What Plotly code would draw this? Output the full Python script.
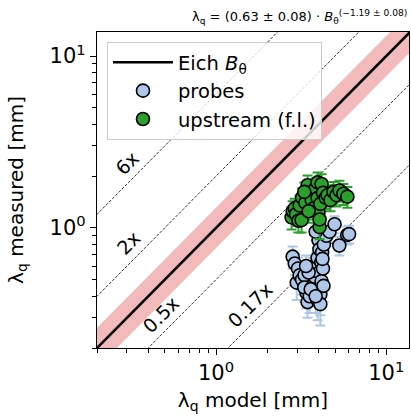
import numpy as np
import plotly.graph_objects as go

# ---------------- data ----------------
probes_x = [2.82, 2.90, 3.03, 2.98, 3.10, 3.20, 3.31, 3.40, 3.45, 3.30, 3.55, 3.69,
            3.75, 3.80, 3.90, 3.95, 3.95, 3.95, 4.00, 4.05, 4.05, 4.10, 4.17, 4.15,
            4.20, 4.25, 4.30, 4.45, 4.64, 4.97, 5.30, 5.90, 6.05, 3.85, 4.10, 3.60,
            3.50, 4.22, 4.28, 3.38, 3.85]
probes_y = [0.68, 0.62, 0.58, 0.48, 0.53, 0.50, 0.53, 0.42, 0.37, 0.45, 0.40, 0.58,
            0.47, 0.52, 0.62, 0.67, 0.44, 0.38, 0.85, 0.55, 0.75, 0.41, 0.49, 0.63,
            0.72, 0.58, 0.80, 0.90, 0.95, 1.05, 0.79, 0.91, 0.92, 0.95, 0.36, 0.44,
            0.55, 0.66, 0.46, 0.60, 0.40]
probes_err = [0.10, 0.09, 0.09, 0.10, 0.08, 0.09, 0.08, 0.08, 0.07, 0.08, 0.08, 0.09,
              0.08, 0.09, 0.10, 0.10, 0.08, 0.09, 0.11, 0.09, 0.10, 0.10, 0.09, 0.09,
              0.10, 0.09, 0.10, 0.11, 0.12, 0.12, 0.10, 0.11, 0.11, 0.11, 0.09, 0.08,
              0.09, 0.10, 0.09, 0.09, 0.08]

up_x = [2.78, 2.82, 2.90, 2.95, 3.05, 3.10, 3.18, 3.20, 3.35, 3.45, 3.55, 3.65,
        3.75, 3.85, 3.95, 3.95, 4.00, 4.06, 4.06, 4.10, 4.17, 4.25, 4.40, 4.52,
        4.70, 4.90, 5.10, 5.31, 5.60, 5.91, 3.50, 3.30]
up_y = [1.15, 1.25, 1.30, 1.20, 1.10, 1.35, 1.11, 1.50, 1.40, 1.77, 1.60, 1.45,
        1.30, 1.70, 1.49, 1.84, 1.23, 1.01, 1.12, 1.38, 1.80, 1.60, 1.50, 1.55,
        1.45, 1.62, 1.55, 1.65, 1.58, 1.52, 1.25, 1.62]
up_err = [0.17, 0.18, 0.18, 0.17, 0.16, 0.19, 0.17, 0.20, 0.20, 0.25, 0.22, 0.20,
          0.18, 0.24, 0.21, 0.26, 0.18, 0.15, 0.16, 0.20, 0.25, 0.22, 0.21, 0.22,
          0.20, 0.23, 0.22, 0.23, 0.22, 0.21, 0.18, 0.22]

ratios = [6, 2, 0.5, 0.17]
ratio_labels = ["6x", "2x", "0.5x", "0.17x"]
label_x = [0.30, 0.306, 0.47, 1.58]
band_factor = 1.31

x_range = [0.2, 13.6]
y_range = [0.2, 13.8]
major_ticks = [1, 10]
major_text = ["10<sup>0</sup>", "10<sup>1</sup>"]
minor_ticks = [0.2, 0.3, 0.4, 0.5, 0.6, 0.7, 0.8, 0.9, 2, 3, 4, 5, 6, 7, 8, 9]

title_txt = ("λ<sub>q</sub> = (0.63 ± 0.08) · <i>B</i><sub>θ</sub>"
             "<sup>(−1.19 ± 0.08)</sup>")

FONT = "DejaVu Sans"
xs = np.array([0.1, 30.0])

fig = go.Figure()

# pink band
fig.add_trace(go.Scatter(x=xs, y=xs / band_factor, mode="lines",
                         line=dict(width=0), showlegend=False, hoverinfo="skip"))
fig.add_trace(go.Scatter(x=xs, y=xs * band_factor, mode="lines",
                         line=dict(width=0), fill="tonexty",
                         fillcolor="rgba(231,130,130,0.55)",
                         showlegend=False, hoverinfo="skip"))

# dashed ratio lines
for r in ratios:
    fig.add_trace(go.Scatter(x=xs, y=xs * r, mode="lines",
                             line=dict(color="black", width=0.8, dash="3px,1.5px"),
                             showlegend=False, hoverinfo="skip"))

# Eich line
fig.add_trace(go.Scatter(x=xs, y=xs, mode="lines", legendgroup="g1",
                         line=dict(color="black", width=2.6),
                         name="Eich <i>B</i><sub>θ</sub>"))

# probes
fig.add_trace(go.Scatter(
    x=probes_x, y=probes_y, mode="markers", name="probes", legendgroup="g2",
    error_y=dict(type="data", array=probes_err, color="#aec7e8",
                 thickness=2, width=5),
    marker=dict(color="#aec7e8", size=13, line=dict(color="black", width=1.6))))

# upstream
fig.add_trace(go.Scatter(
    x=up_x, y=up_y, mode="markers", name="upstream (f.l.)", legendgroup="g3",
    error_y=dict(type="data", array=up_err, color="#2ca02c",
                 thickness=2, width=5),
    marker=dict(color="#2ca02c", size=13, line=dict(color="black", width=1.6))))

annotations = []
for r, lab, lx in zip(ratios, ratio_labels, label_x):
    annotations.append(dict(
        x=np.log10(lx), y=np.log10(r * lx * 1.33), xref="x", yref="y",
        text=lab, showarrow=False, textangle=-45,
        font=dict(family=FONT, size=19, color="black")))

annotations.append(dict(
    x=1, y=1, xref="paper", yref="paper", xanchor="right", yanchor="bottom",
    yshift=4, text=title_txt, showarrow=False,
    font=dict(family=FONT, size=13, color="black")))

axis_common = dict(
    type="log", showgrid=False, zeroline=False, automargin=False,
    showline=True, linecolor="black", linewidth=1.3, mirror=True,
    ticks="outside", ticklen=6, tickwidth=1.2, tickcolor="black",
    tickvals=major_ticks, ticktext=major_text,
    tickfont=dict(family=FONT, size=21, color="black"),
    minor=dict(tickvals=minor_ticks, ticks="outside", ticklen=3.5,
               tickwidth=1, tickcolor="black", showgrid=False),
)

fig.update_layout(
    width=411, height=416,
    margin=dict(l=97, r=2, t=32, b=68),
    paper_bgcolor="white", plot_bgcolor="white",
    font=dict(family=FONT, color="black"),
    xaxis=dict(axis_common, range=[np.log10(x_range[0]), np.log10(x_range[1])],
               title=dict(text="λ<sub>q</sub> model [mm]",
                          font=dict(family=FONT, size=20), standoff=8)),
    yaxis=dict(axis_common, range=[np.log10(y_range[0]), np.log10(y_range[1])],
               title=dict(text="λ<sub>q</sub> measured [mm]",
                          font=dict(family=FONT, size=20), standoff=20)),
    legend=dict(x=0.032, y=0.968, xanchor="left", yanchor="top",
                bgcolor="rgba(255,255,255,0.8)", bordercolor="#cccccc",
                borderwidth=1, font=dict(family=FONT, size=19.5),
                itemwidth=60, tracegroupgap=7, traceorder="normal"),
    annotations=annotations,
    showlegend=True,
)

fig.write_html("out.html", config={"displayModeBar": False},
               post_script="document.body.style.margin='0';document.body.style.overflow='hidden';")
